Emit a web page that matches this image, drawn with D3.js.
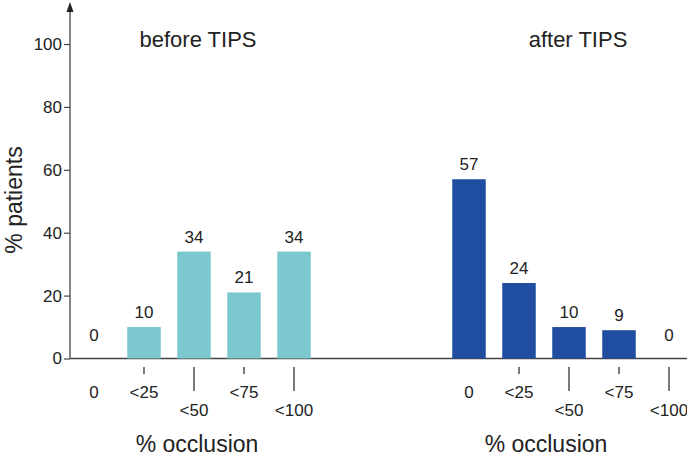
<!DOCTYPE html>
<html>
<head>
<meta charset="utf-8">
<script src="https://cdn.jsdelivr.net/npm/d3@7"></script>
<style>
  body { margin: 0; background: #fff; }
  text { font-family: "Liberation Sans", Arial, sans-serif; fill: #222; }
</style>
</head>
<body>
<svg id="chart" width="687" height="456"></svg>
<script>
const CATEGORIES = ["0", "<25", "<50", "<75", "<100"];
const BEFORE = [0, 10, 34, 21, 34];
const AFTER = [57, 24, 10, 9, 0];
const Y_TICKS = [0, 20, 40, 60, 80, 100];
const LONG_TICK = ["<50", "<100"];

const svg = d3.select("#chart");
const AXIS_X = 70;
const y = d3.scaleLinear().domain([0, 100]).range([358.5, 44]);

// y axis with arrow
svg.append("line")
  .attr("x1", AXIS_X).attr("x2", AXIS_X)
  .attr("y1", 10).attr("y2", y(0))
  .attr("stroke", "#444").attr("stroke-width", 1.3);
svg.append("path")
  .attr("d", `M${AXIS_X},2 L${AXIS_X - 3.5},12 L${AXIS_X + 3.5},12 Z`)
  .attr("fill", "#222");

const yAxis = svg.append("g")
  .attr("transform", `translate(${AXIS_X},0)`)
  .call(d3.axisLeft(y).tickValues(Y_TICKS).tickSize(6).tickPadding(2));
yAxis.select(".domain").remove();
yAxis.selectAll(".tick line").attr("stroke", "#444").attr("stroke-width", 1.2);
yAxis.selectAll(".tick text")
  .style("font-size", "17px").attr("fill", "#222")
  .attr("font-family", "Liberation Sans, Arial, sans-serif");

svg.append("text")
  .attr("transform", "translate(22,200) rotate(-90)")
  .attr("text-anchor", "middle")
  .style("font-size", "23px")
  .text("% patients");

// baseline
svg.append("line")
  .attr("x1", AXIS_X).attr("x2", 687)
  .attr("y1", y(0)).attr("y2", y(0))
  .attr("stroke", "#444").attr("stroke-width", 1.3);

function drawGroup(values, range, color, title, titleX, labelX) {
  const x = d3.scaleBand().domain(CATEGORIES).range(range)
    .paddingInner(0.33).paddingOuter(0.165);
  const g = svg.append("g");
  const data = CATEGORIES.map((c, i) => ({ cat: c, v: values[i] }));

  g.selectAll("rect").data(data.filter(d => d.v > 0)).enter()
    .append("rect")
    .attr("x", d => x(d.cat))
    .attr("width", x.bandwidth())
    .attr("y", d => y(d.v))
    .attr("height", d => y(0) - y(d.v))
    .attr("fill", color);

  g.selectAll("text.val").data(data).enter()
    .append("text").attr("class", "val")
    .attr("x", d => x(d.cat) + x.bandwidth() / 2)
    .attr("y", d => d.v > 0 ? y(d.v) - 9 : y(0) - 18)
    .attr("text-anchor", "middle")
    .style("font-size", "17px")
    .text(d => d.v);

  // category ticks and labels
  g.selectAll("line.ct").data(CATEGORIES.slice(1)).enter()
    .append("line").attr("class", "ct")
    .attr("x1", d => x(d) + x.bandwidth() / 2)
    .attr("x2", d => x(d) + x.bandwidth() / 2)
    .attr("y1", 367)
    .attr("y2", d => LONG_TICK.includes(d) ? 391 : 374)
    .attr("stroke", "#333").attr("stroke-width", 1.3);

  g.selectAll("text.cat").data(CATEGORIES).enter()
    .append("text").attr("class", "cat")
    .attr("x", d => x(d) + x.bandwidth() / 2)
    .attr("y", d => LONG_TICK.includes(d) ? 416 : 398)
    .attr("text-anchor", "middle")
    .style("font-size", "17px")
    .text(d => d);

  svg.append("text")
    .attr("x", labelX).attr("y", 452)
    .attr("text-anchor", "middle")
    .style("font-size", "23px")
    .text("% occlusion");

  svg.append("text")
    .attr("x", titleX).attr("y", 47)
    .attr("text-anchor", "middle")
    .style("font-size", "22px")
    .text(title);
}

drawGroup(BEFORE, [69, 319], "#7bc8ce", "before TIPS", 198, 197);
drawGroup(AFTER, [444, 694], "#1f4da0", "after TIPS", 578, 546);
</script>
</body>
</html>
